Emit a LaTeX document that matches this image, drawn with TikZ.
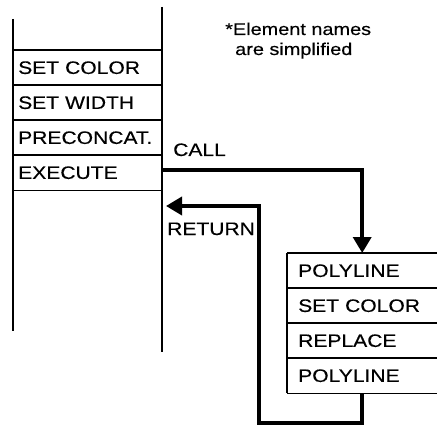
\documentclass[tikz,border=0pt]{standalone}
\usepackage{fontspec}
\setmainfont{Liberation Sans}[FakeStretch=1.17,FakeBold=0.3]
\usetikzlibrary{arrows.meta}
\begin{document}
\begin{tikzpicture}[x=1pt,y=-1pt,
  thinline/.style={line width=1.6pt},
  flow/.style={line width=3.6pt,-{Triangle[length=16pt,width=18pt]}},
  lcell/.style={anchor=north west,minimum height=35pt,inner xsep=5pt,inner ysep=0pt,
    text width=139pt,align=left,font=\fontsize{18}{20}\selectfont},
  rcell/.style={anchor=north west,minimum height=35pt,inner xsep=11pt,inner ysep=0pt,
    text width=128pt,align=left,font=\fontsize{18}{20}\selectfont},
  label/.style={anchor=base west,inner sep=0pt,font=\fontsize{18}{20}\selectfont},
  note/.style={anchor=base west,inner sep=0pt,font=\fontsize{17}{20}\selectfont}]
\useasboundingbox (0,0) rectangle (437,428);

% left stack
\node[lcell] (c1) at (13,50) {SET COLOR};
\node[lcell] (c2) at (13,85) {SET WIDTH};
\node[lcell] (c3) at (13,120) {PRECONCAT.};
\node[lcell] (c4) at (13,155) {EXECUTE};
\draw[thinline] (13,19) -- (13,331);
\draw[thinline] (162,7) -- (162,352);
\foreach \n in {c1,c2,c3,c4} \draw[thinline] (\n.north west) -- (\n.north east);
\draw[thinline] (c4.south west) -- (c4.south east);

% right stack
\node[rcell] (p1) at (287,253) {POLYLINE};
\node[rcell] (p2) at (287,288) {SET COLOR};
\node[rcell] (p3) at (287,323) {REPLACE};
\node[rcell] (p4) at (287,358) {POLYLINE};
\draw[thinline] (p1.north west) -- (p4.south west);
\foreach \n in {p1,p2,p3,p4} \draw[thinline] (\n.north west) -- (\n.north east);
\draw[thinline] (p4.south west) -- (p4.south east);

% labels
\node[label] (call) at (173,156) {CALL};
\node[label] (ret) at (167,235) {RETURN};
\node[note] (n1) at (225,35) {*Element names};
\node[note] (n2) at (235,55) {are simplified};

% connectors
\coordinate (cs) at (162,170);
\coordinate (rc) at (259,423);
\coordinate (re) at (166,206);
\draw[flow] (cs) -| (p1.north);
\draw[flow] (p4.south) |- (rc) |- (re);
\end{tikzpicture}
\end{document}
